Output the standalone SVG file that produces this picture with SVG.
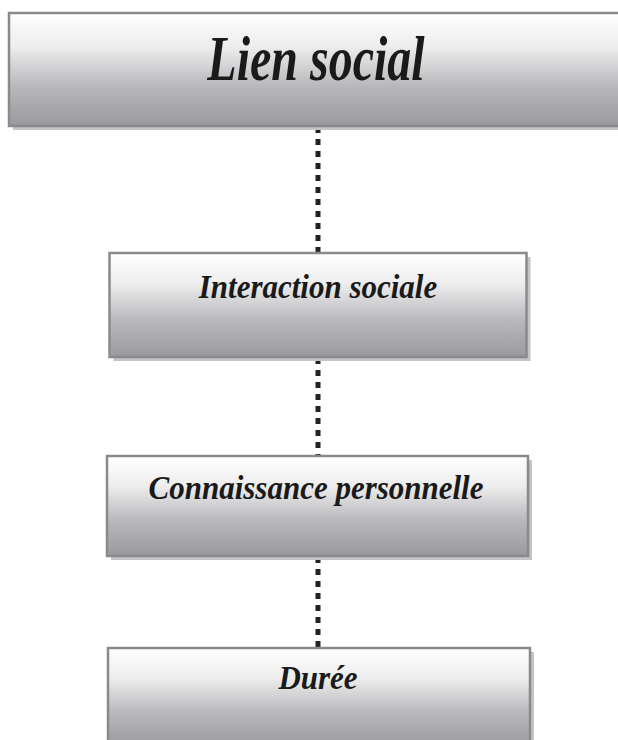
<svg xmlns="http://www.w3.org/2000/svg" width="618" height="740" viewBox="0 0 618 740">
<style>
.box{fill:url(#g);stroke:#8a8a8e;stroke-width:2.5}
.sh{fill:#c4c4c8}
.t{font-family:"Liberation Serif","Times New Roman",serif;font-weight:bold;font-style:italic;fill:#1a1a1a;text-anchor:middle}
.c{stroke:#222;stroke-width:5;stroke-dasharray:6 6;fill:none}
</style>
<defs>
<linearGradient id="g" x1="0" y1="0" x2="0" y2="1">
<stop offset="0" stop-color="#ffffff"/>
<stop offset="0.3" stop-color="#ededee"/>
<stop offset="0.65" stop-color="#b8b8bb"/>
<stop offset="1" stop-color="#9a9a9e"/>
</linearGradient>
</defs>
<g id="connectors">
<line class="c" x1="318" y1="127" x2="318" y2="252"/>
<line class="c" x1="318" y1="358" x2="318" y2="455"/>
<line class="c" x1="318" y1="557" x2="318" y2="647"/>
</g>
<g id="lien-social">
<rect class="sh" x="13" y="17" width="620" height="113"/>
<rect class="box" x="9" y="13" width="620" height="113"/>
<text class="t" font-size="48" transform="translate(316,80) scale(1,1.3)">Lien social</text>
</g>
<g id="interaction-sociale">
<rect class="sh" x="113.5" y="257" width="417" height="104"/>
<rect class="box" x="109.5" y="253" width="417" height="104"/>
<text class="t" font-size="31" transform="translate(318,298) scale(1,1.08)">Interaction sociale</text>
</g>
<g id="connaissance-personnelle">
<rect class="sh" x="111" y="460" width="421" height="100"/>
<rect class="box" x="107" y="456" width="421" height="100"/>
<text class="t" font-size="31" transform="translate(316,499) scale(1,1.08)">Connaissance personnelle</text>
</g>
<g id="duree">
<rect class="sh" x="112" y="652" width="422" height="100"/>
<rect class="box" x="108" y="648" width="422" height="100"/>
<text class="t" font-size="31" transform="translate(318,689) scale(1,1.08)">Durée</text>
</g>
</svg>
